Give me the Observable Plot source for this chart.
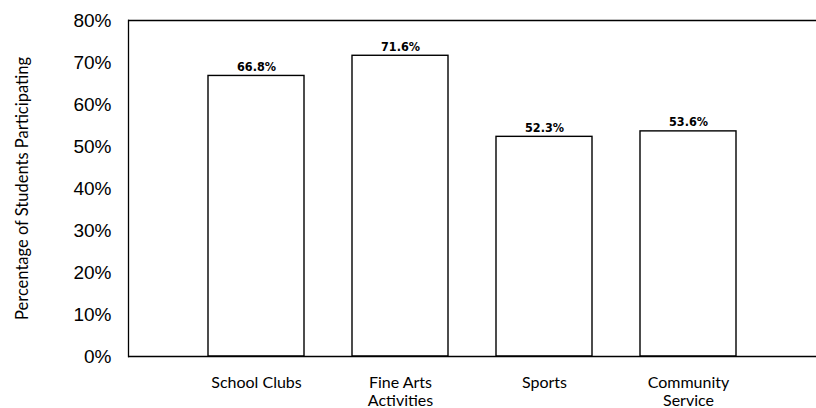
<!DOCTYPE html>
<html>
<head>
<meta charset="utf-8">
<script src="https://cdn.jsdelivr.net/npm/d3@7"></script>
<script src="https://cdn.jsdelivr.net/npm/@observablehq/plot@0.6"></script>
<style>
  html, body { margin: 0; padding: 0; background: #fff; }
</style>
</head>
<body>
<div id="chart"></div>
<script>
const categories = ["School Clubs", "Fine Arts Activities", "Sports", "Community Service"];
const tickLabels = ["School Clubs", "Fine Arts\nActivities", "Sports", "Community\nService"];
const values = [66.8, 71.6, 52.3, 53.6];
const valueLabels = ["66.8%", "71.6%", "52.3%", "53.6%"];
const yTicks = [0, 10, 20, 30, 40, 50, 60, 70, 80];
const yLabel = "Percentage of Students Participating";

const data = categories.map((c, i) => ({category: c, value: values[i], label: valueLabels[i]}));

const chart = Plot.plot({
  width: 816,
  height: 408,
  marginLeft: 128,
  marginRight: 0,
  marginTop: 20,
  marginBottom: 52,
  style: {background: "#fff", color: "#000"},
  x: {domain: categories, paddingInner: 0.33, paddingOuter: 0.54},
  y: {domain: [0, 80]},
  marks: [
    Plot.barY(data, {x: "category", y: "value", fill: "#fff", stroke: "#000", strokeWidth: 1.4}),
    Plot.ruleY([0, 80], {stroke: "#000", strokeWidth: 1.3}),
    Plot.frame({anchor: "left", stroke: "#000", strokeWidth: 1.3}),
    Plot.text(data, {x: "category", y: "value", text: "label", lineAnchor: "bottom", dy: -5,
      fontFamily: "'DejaVu Sans Condensed', 'Liberation Sans', sans-serif", fontWeight: "bold", fontSize: 12.5, fill: "#000"}),
    Plot.axisY({ticks: yTicks, tickSize: 0, tickPadding: 17, tickFormat: d => d + "%",
      fontSize: 19, fontFamily: "'Liberation Sans', sans-serif",
      label: yLabel, labelAnchor: "center", labelArrow: "none", labelOffset: 112}),
    Plot.axisX({tickSize: 0, tickPadding: 18, tickFormat: d => tickLabels[categories.indexOf(d)],
      fontSize: 16, fontFamily: "Lato, sans-serif", lineHeight: 1.15, label: null})
  ]
});
d3.select(chart).selectAll("g[aria-label='y-axis label'] text")
  .text(yLabel)
  .style("font-size", "16.5px").style("font-family", "Lato, sans-serif");
document.getElementById("chart").appendChild(chart);
</script>
</body>
</html>
